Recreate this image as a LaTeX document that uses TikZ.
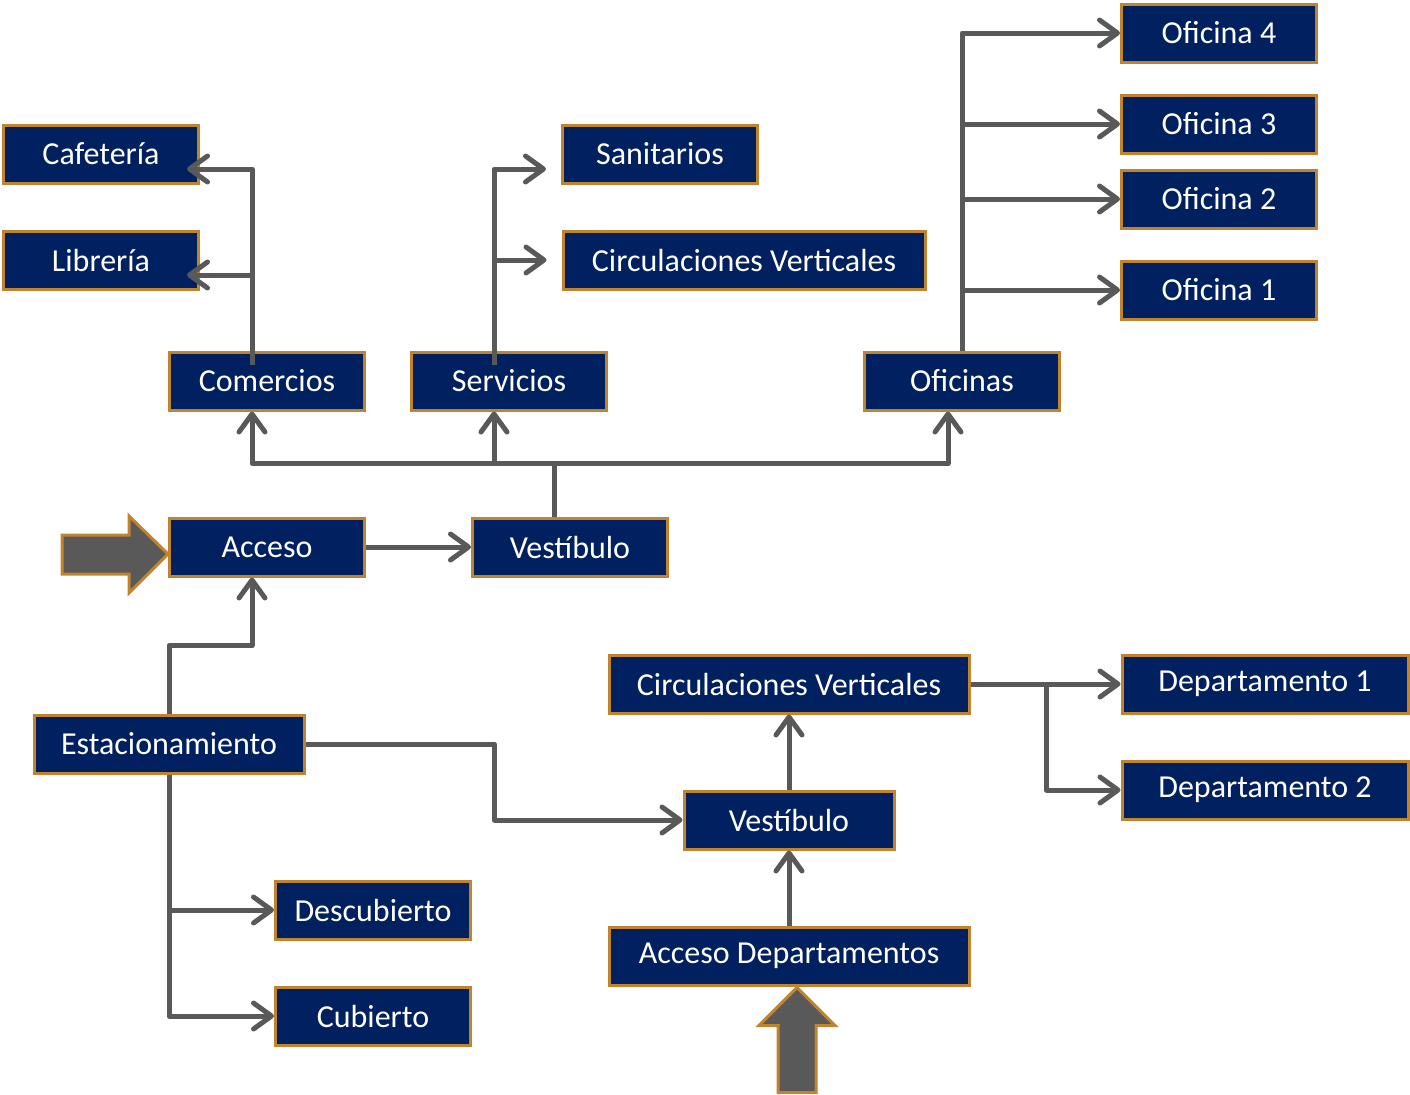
\documentclass[tikz,border=0pt]{standalone}
\usepackage{fontspec}
\setmainfont{Carlito}
\usepackage{tikz}
\usetikzlibrary{calc,arrows.meta}
\definecolor{navy}{HTML}{002060}
\definecolor{gold}{HTML}{C0842F}
\definecolor{gris}{HTML}{595959}

\begin{document}
\begin{tikzpicture}[x=0.5pt,y=-0.5pt,
  box/.style={draw=gold,line width=1.5pt,fill=navy,text=white,minimum height=29pt,
    inner sep=0pt,font=\fontsize{16}{19}\selectfont},
  conn/.style={draw=gris,line width=2.5pt,line join=round,
    -{Straight Barb[round,length=9pt,width=13pt]}},
  bigarr/.style={fill=gris,draw=gold,line width=1.5pt}]

  \useasboundingbox (0,0) rectangle (1410,1094);

  % upper part
  \node[box,minimum width=97.5pt] (caf) at (101,154) {Cafetería};
  \node[box,minimum width=97.5pt] (lib) at (101,260) {Librería};
  \node[box,minimum width=97.5pt] (com) at (267,381) {Comercios};
  \node[box,minimum width=97.5pt] (ser) at (509,381) {Servicios};
  \node[box,minimum width=97.5pt] (san) at (660,154) {Sanitarios};
  \node[box,minimum width=181pt] (cv1) at (744,260) {Circulaciones Verticales};
  \node[box,minimum width=97.5pt] (ofi) at (962,381) {Oficinas};
  \node[box,minimum width=97.5pt] (of4) at (1219,33) {Oficina 4};
  \node[box,minimum width=97.5pt] (of3) at (1219,124) {Oficina 3};
  \node[box,minimum width=97.5pt] (of2) at (1219,199) {Oficina 2};
  \node[box,minimum width=97.5pt] (of1) at (1219,290) {Oficina 1};
  \node[box,minimum width=97.5pt] (acc) at (267,547) {Acceso};
  \node[box,minimum width=97.5pt] (ves1) at (570,547) {Vestíbulo};

  % lower part
  \node[box,minimum width=135pt] (est) at (169,744) {Estacionamiento};
  \node[box,minimum width=97.5pt] (des) at (373,910) {Descubierto};
  \node[box,minimum width=97.5pt] (cub) at (373,1016) {Cubierto};
  \node[box,minimum width=180pt] (cv2) at (789,684) {Circulaciones Verticales};
  \node[box,minimum width=105pt] (ves2) at (789,820) {Vestíbulo};
  \node[box,minimum width=180pt] (accd) at (789,956) {Acceso Departamentos};
  \node[box,minimum width=143pt] (dp1) at (1265,684) {Departamento 1};
  \node[box,minimum width=143pt] (dp2) at (1265,790) {Departamento 2};

  % entry arrows
  \draw[bigarr] ($(acc.west)+(0,7)$) -- ++(-39,-38) -- ++(0,19) -- ++(-67,0)
    -- ++(0,39) -- ++(67,0) -- ++(0,19) -- cycle;
  \draw[bigarr] ($(accd.south)+(8,1)$) -- ++(38,38) -- ++(-19,0) -- ++(0,67)
    -- ++(-38,0) -- ++(0,-67) -- ++(-19,0) -- cycle;

  % connectors
  \draw[conn] ($(com.north)+(-15,14)$) |- ($(caf.east)+(-13,15)$);
  \draw[conn] ($(com.north)+(-15,14)$) |- ($(lib.east)+(-13,15)$);
  \draw[conn] ($(ser.north)+(-15,14)$) |- ($(san.west)+(-15,15)$);
  \draw[conn] ($(ser.north)+(-15,14)$) |- ($(cv1.west)+(-15,0)$);

  \coordinate (vt) at ($(ves1.north)+(-16,-53)$);
  \draw[conn] ($(ves1.north)+(-16,0)$) -- (vt) -| ($(com.south)+(-15,0)$);
  \draw[conn] (vt) -| ($(ser.south)+(-15,0)$);
  \draw[conn] (vt) -| ($(ofi.south)+(-14,0)$);

  \draw[conn] (ofi.north) |- (of4.west);
  \draw[conn] (ofi.north) |- (of3.west);
  \draw[conn] (ofi.north) |- (of2.west);
  \draw[conn] (ofi.north) |- (of1.west);

  \draw[conn] (acc.east) -- (ves1.west);
  \draw[conn] (est.north) -- ++(0,-68) -| ($(acc.south)+(-15,0)$);
  \draw[conn] (est.east) -- ++(189,0) |- (ves2.west);
  \draw[conn] (est.south) |- (des.west);
  \draw[conn] (est.south) |- (cub.west);

  \draw[conn] (accd.north) -- (ves2.south);
  \draw[conn] (ves2.north) -- (cv2.south);
  \draw[conn] (cv2.east) -- (dp1.west);
  \draw[conn] ($(cv2.east)+(76,0)$) |- (dp2.west);

\end{tikzpicture}
\end{document}
